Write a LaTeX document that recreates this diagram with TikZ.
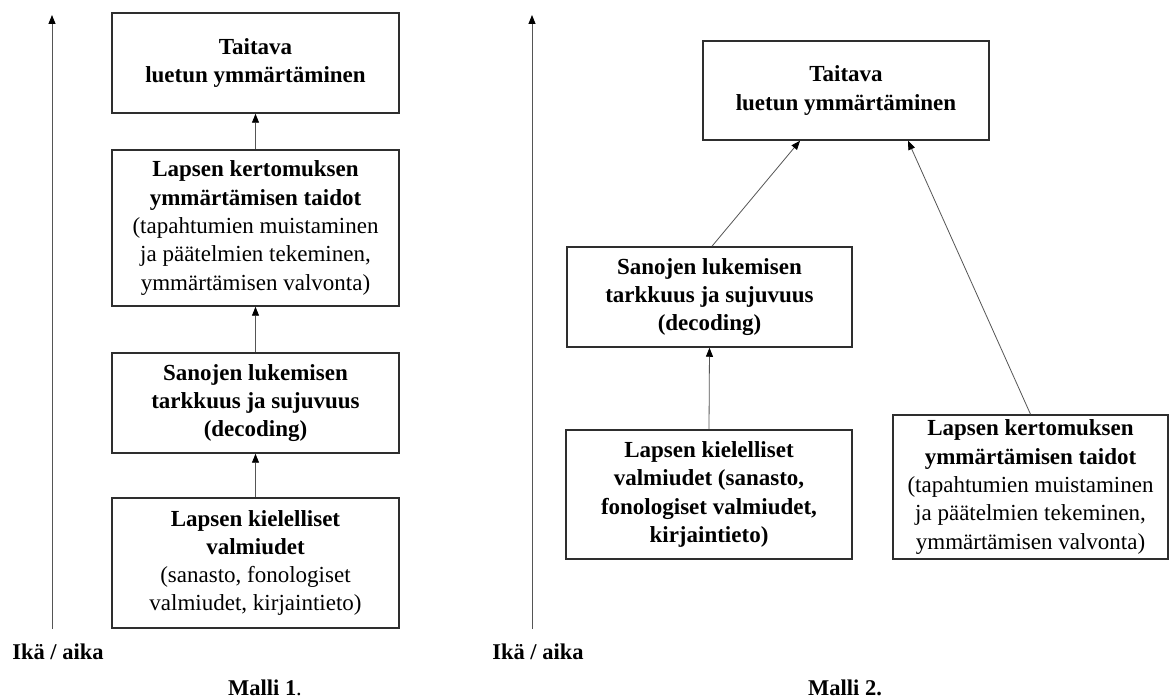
\documentclass[tikz,border=0pt]{standalone}
\usepackage{fontspec}
\setmainfont{Liberation Serif}
\usetikzlibrary{arrows.meta}
\definecolor{boxline}{HTML}{2E2E2E}
\definecolor{arrline}{HTML}{555555}
\begin{document}
\begin{tikzpicture}[x=1pt,y=-1pt,
  box/.style={draw=boxline,line width=1.5pt,rectangle,inner sep=0pt,align=center,
    font=\fontsize{23}{28.3}\selectfont},
  conn/.style={draw=arrline,line width=0.8pt,-{Triangle[length=9pt,width=7pt,color=black]}},
  lab/.style={font=\fontsize{22.5}{27}\selectfont\bfseries,inner sep=0pt}]
\useasboundingbox (0,0) rectangle (1176,700);
\fill[white] (0,0) rectangle (1176,700);

% ---------- Malli 1 ----------
\coordinate (a1b) at (52,629);
\coordinate (a1t) at (52,15);
\draw[conn] (a1b) -- (a1t);
\node[lab] (ika1) at (58,652) {Ikä / aika};

\node[box,minimum width=287pt,minimum height=100pt] (L1) at (255.5,63)
  {\textbf{Taitava}\\\textbf{luetun ymmärtäminen}};
\node[box,minimum width=287pt,minimum height=156pt] (L2) at (255.5,228)
  {\textbf{Lapsen kertomuksen}\\\textbf{ymmärtämisen taidot}\\(tapahtumien muistaminen\\ja päätelmien tekeminen,\\ymmärtämisen valvonta)};
\node[box,minimum width=287pt,minimum height=100pt] (L3) at (255.5,403)
  {\textbf{Sanojen lukemisen}\\\textbf{tarkkuus ja sujuvuus}\\\textbf{(decoding)}};
\node[box,minimum width=287pt,minimum height=130pt] (L4) at (255.5,563)
  {\textbf{Lapsen kielelliset}\\\textbf{valmiudet}\\(sanasto, fonologiset\\valmiudet, kirjaintieto)};

\draw[conn] (L2.north) -- (L1.south);
\draw[conn] (L3.north) -- (L2.south);
\draw[conn] (L4.north) -- (L3.south);

\node[inner sep=0pt,font=\fontsize{22.5}{27}\selectfont] (m1) at (265,688) {\textbf{Malli 1}.};

% ---------- Malli 2 ----------
\coordinate (a2b) at (532,629);
\coordinate (a2t) at (532,15);
\draw[conn] (a2b) -- (a2t);
\node[lab] (ika2) at (538,652) {Ikä / aika};

\node[box,minimum width=286pt,minimum height=99pt] (R1) at (846,90.5)
  {\textbf{Taitava}\\\textbf{luetun ymmärtäminen}};
\node[box,minimum width=285pt,minimum height=100pt] (R2) at (709.5,297)
  {\textbf{Sanojen lukemisen}\\\textbf{tarkkuus ja sujuvuus}\\\textbf{(decoding)}};
\node[box,minimum width=286pt,minimum height=129pt] (R3) at (709,494.5)
  {\textbf{Lapsen kielelliset}\\\textbf{valmiudet (sanasto,}\\\textbf{fonologiset valmiudet,}\\\textbf{kirjaintieto)}};
\node[box,minimum width=275pt,minimum height=144pt] (R4) at (1030.5,487)
  {\textbf{Lapsen kertomuksen}\\\textbf{ymmärtämisen taidot}\\(tapahtumien muistaminen\\ja päätelmien tekeminen,\\ymmärtämisen valvonta)};

\draw[conn] ([xshift=2.5pt]R2.north) -- ([xshift=-46pt]R1.south);
\draw[conn] (R4.north) -- ([xshift=62pt]R1.south);
\draw[conn] (R3.north) -- (R2.south);

\node[lab] (m2) at (845,688) {Malli 2.};
\end{tikzpicture}
\end{document}
